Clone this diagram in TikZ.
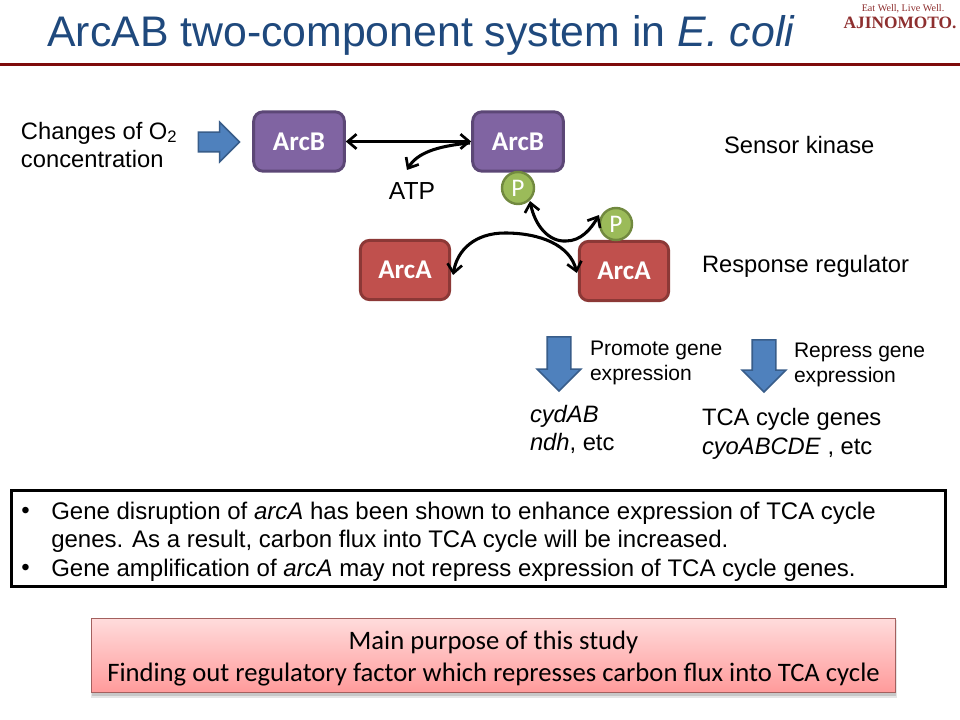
\documentclass[tikz,border=0pt]{standalone}
\usepackage{fontspec}
\setmainfont{Liberation Sans}
\newfontfamily\calfont{Carlito}
\newfontfamily\logofont{Liberation Serif}
\usetikzlibrary{arrows.meta,shapes.arrows,calc}
\definecolor{titleblue}{HTML}{1F497D}
\definecolor{rulered}{HTML}{7E0A0A}
\definecolor{purplefill}{HTML}{8064A2}
\definecolor{purpleline}{HTML}{5C4776}
\definecolor{redfill}{HTML}{C0504D}
\definecolor{redline}{HTML}{8C3836}
\definecolor{greenfill}{HTML}{9BBB59}
\definecolor{greenline}{HTML}{71893F}
\definecolor{arrowfill}{HTML}{4F81BD}
\definecolor{arrowline}{HTML}{385D8A}
\definecolor{logored}{HTML}{8E2F2F}
\definecolor{pinktop}{HTML}{FFDCDC}
\definecolor{pinkbottom}{HTML}{FF9A9A}
\tikzset{
  x=0.75pt,y=-0.75pt,
  lbl/.style={inner sep=0pt,outer sep=0pt,anchor=west,align=left,text=black,font=\fontsize{17.8}{21.3}\selectfont},
  small/.style={inner sep=0pt,outer sep=0pt,anchor=west,align=left,text=black,font=\fontsize{15.8}{18.8}\selectfont},
  bullettext/.style={inner sep=0pt,anchor=west,align=left,font=\fontsize{18}{21.4}\selectfont},
  purplebox/.style={draw=purpleline,fill=purplefill,line width=2.2pt,rounded corners=7pt,minimum width=68pt,minimum height=44.5pt,inner sep=0pt,text=white,font=\calfont\bfseries\fontsize{20.3}{22}\selectfont},
  redbox/.style={draw=redline,fill=redfill,line width=2.2pt,rounded corners=7pt,minimum width=67pt,minimum height=44.5pt,inner sep=0pt,text=white,font=\calfont\bfseries\fontsize{20.3}{22}\selectfont},
  pcircle/.style={circle,draw=greenline,fill=greenfill,line width=1.8pt,minimum size=24pt,inner sep=0pt,text=white,font=\calfont\fontsize{19}{20}\selectfont},
  blockarrow/.style={draw=arrowline,fill=arrowfill,line width=1.2pt,single arrow},
  link/.style={line width=2.3pt,black},
  tip/.style={-{Straight Barb[length=6.5pt,width=11pt,line width=2pt]}},
  tips/.style={{Straight Barb[length=6.5pt,width=11pt,line width=2pt]}-{Straight Barb[length=6.5pt,width=11pt,line width=2pt]}},
}
\begin{document}
\begin{tikzpicture}
\useasboundingbox (0,0) rectangle (960,720);
\fill[white] (0,0) rectangle (960,720);

% title
\node[inner sep=0pt,anchor=west,text=titleblue,font=\fontsize{32.1}{36}\selectfont] (title) at (47,35) {ArcAB two-component system in \textit{E. coli}};
\fill[rulered] (0,63.5) rectangle (960,66.5);

% logo
\node[inner sep=0pt,text=logored,font=\logofont\fontsize{7.6}{9}\selectfont] (logoa) at (903,9) {Eat Well, Live Well.};
\node[inner sep=0pt,text=logored,font=\logofont\bfseries\fontsize{13}{15}\selectfont] (logob) at (900,23) {AJINOMOTO.};

% left text and input arrow
\node[lbl] (changes) at (21,145) {Changes of O\textsubscript{\fontsize{12.5}{12.5}\selectfont 2}\\concentration};
\node[blockarrow,inner sep=6.75pt,minimum height=30.75pt,single arrow head extend=7.5pt,shape border rotate=0] (inarrow) at (214,142) {};

% boxes
\node[purplebox] (arcbl) at (299,141.5) {ArcB};
\node[purplebox] (arcbr) at (518,141.5) {ArcB};
\node[redbox] (arcal) at (405,270) {ArcA};
\node[redbox] (arcar) at (624,271) {ArcA};

% circles
\node[pcircle] (pb) at (518,188) {P};
\node[pcircle] (pa) at (616,224) {P};

% ATP
\node[lbl,anchor=center,font=\fontsize{18.5}{22}\selectfont] (atp) at (412,191) {ATP};
\coordinate (atpend) at (407,170);
\coordinate (atpstart) at (470,143);

% connectors
\draw[link,tips] (arcbl.east) -- (arcbr.west);
\draw[link,tip] (atpstart) .. controls (437,146) and (417,153) .. (atpend);
\coordinate (alstart) at ($(arcal.east)+(2,5)$);
\coordinate (arstart) at ($(arcar.west)+(-1,2)$);
\draw[link,tips] (alstart) .. controls (457,250) and (475,233) .. (505,233) .. controls (540,233) and (570,245) .. (arstart);
\coordinate (pastart) at (599,215);
\coordinate (pbend) at (530,201);
\draw[link,tips] (pbend) .. controls (535,226) and (549,242) .. (566,241) .. controls (581,241) and (591,229) .. (pastart);

% right labels
\node[lbl] (sensor) at (724,145) {Sensor kinase};
\node[lbl] (response) at (702,266) {Response regulator};

% down arrows
\node[blockarrow,shape border rotate=270,inner sep=8.25pt,minimum height=40.5pt,single arrow head extend=7.5pt] (down1) at (559,358) {};
\node[blockarrow,shape border rotate=270,inner sep=8.25pt,minimum height=39pt,single arrow head extend=7.5pt] (down2) at (764,360) {};
\node[small] (promote) at (590,362.5) {Promote gene\\expression};
\node[small] (repress) at (794,364.5) {Repress gene\\expression};
\node[lbl] (cyd) at (530,429.5) {\textit{cydAB}\\\textit{ndh}, etc};
\node[lbl] (tca) at (702,434) {TCA cycle genes\\\textit{cyoABCDE} , etc};

% bullet box
\node[draw=black,line width=2.2pt,minimum width=701pt,minimum height=72.5pt,inner sep=0pt] (bulletbox) at (478.5,538.5) {};
\node[bullettext] (b1) at (21,513) {•};
\node[bullettext] (t1) at (51,527.5) {Gene disruption of \textit{arcA} has been shown to enhance expression of TCA cycle\\genes. As a result, carbon flux into TCA cycle will be increased.};
\node[bullettext] (b2) at (21,570) {•};
\node[bullettext] (t2) at (51,570) {Gene amplification of \textit{arcA} may not repress expression of TCA cycle genes.};

% purpose box with shadow
\fill[black!10] (91,620) rectangle (897,698);
\fill[black!22] (92,620) rectangle (896,696);
\node[draw=redline!80,line width=0.8pt,top color=pinktop,bottom color=pinkbottom,minimum width=603pt,minimum height=56pt,inner sep=0pt] (purpose) at (493.5,655.5) {};
\node[inner sep=0pt,align=center,font=\calfont\fontsize{20}{24}\selectfont] (purposetext) at (493.5,658.5) {Main purpose of this study\\Finding out regulatory factor which represses carbon flux into TCA cycle};
\end{tikzpicture}
\end{document}
